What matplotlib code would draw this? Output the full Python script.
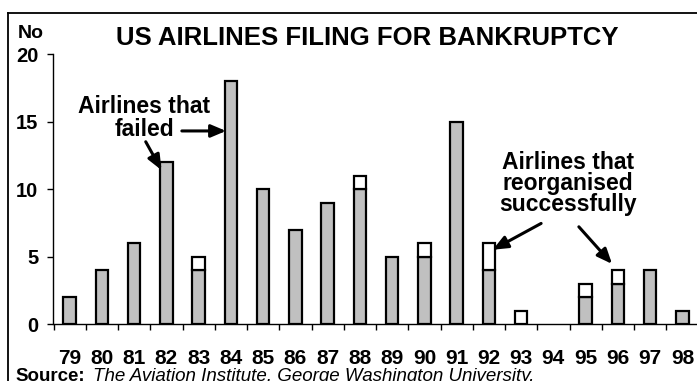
import matplotlib
matplotlib.use("Agg")
import matplotlib.pyplot as plt
import numpy as np

# Bankruptcy filings by year
years = ["79", "80", "81", "82", "83", "84", "85", "86", "87", "88",
         "89", "90", "91", "92", "93", "94", "95", "96", "97", "98"]
failed = [2, 4, 6, 12, 4, 18, 10, 7, 9, 10, 5, 5, 15, 4, 0, 0, 2, 3, 4, 1]
reorganised = [0, 0, 0, 0, 1, 0, 0, 0, 0, 1, 0, 1, 0, 2, 1, 0, 1, 1, 0, 0]
y_ticks = [0, 5, 10, 15, 20]

plt.rcParams["font.family"] = ["Liberation Sans", "DejaVu Sans"]

W, H = 697, 381
fig = plt.figure(figsize=(W / 100, H / 100), dpi=100)

def fx(px):
    return px / W

def fy(py):
    return 1 - py / H

ax = fig.add_axes([fx(53.5), fy(324), fx(645), 270 / H])
ax.set_xlim(-0.5, len(years) - 0.5)
ax.set_ylim(0, 20)

x = np.arange(len(years))
f = np.array(failed)
r = np.array(reorganised)
bw = 0.38
grey = "#c0c0c0"

mask_f = f > 0
ax.bar(x[mask_f], f[mask_f], width=bw, color=grey, edgecolor="black",
       linewidth=1.6, zorder=3)
mask_r = r > 0
ax.bar(x[mask_r], r[mask_r], bottom=f[mask_r], width=bw, color="white",
       edgecolor="black", linewidth=1.6, zorder=3)

for s in ["top", "right"]:
    ax.spines[s].set_visible(False)
ax.spines["left"].set_linewidth(1.0)
ax.spines["bottom"].set_linewidth(1.0)
ax.spines["bottom"].set_zorder(4)

ax.set_yticks(y_ticks)
ax.set_yticklabels([str(v) for v in y_ticks], fontsize=14.5, fontweight="bold")
ax.tick_params(axis="y", length=4, width=1.0, pad=7)

ax.set_xticks(x)
ax.set_xticklabels(years, fontsize=15, fontweight="bold")
ax.tick_params(axis="x", which="major", length=0, pad=18)
ax.set_xticks(np.arange(-0.5, len(years), 1.0), minor=True)
ax.tick_params(axis="x", which="minor", length=4, width=1.0, direction="out")

bold = dict(fontweight="bold", ha="center", va="baseline")

# "No" unit label
fig.text(fx(30.5), fy(38), "No", fontsize=14, **bold)

# Title
fig.text(fx(367.5), fy(45), "US AIRLINES FILING FOR BANKRUPTCY",
         fontsize=18.5, **bold)

# Annotation: failed airlines
fig.text(fx(144), fy(113), "Airlines that", fontsize=16.5, **bold)
fig.text(fx(144), fy(136), "failed", fontsize=16.5, **bold)
arrow_kw = dict(arrowstyle="-|>,head_length=0.9,head_width=0.38",
                color="black", lw=2.2, shrinkA=0, shrinkB=0)
ax.annotate("", xy=(4.85, 14.3), xytext=(3.48, 14.3), arrowprops=arrow_kw)
ax.annotate("", xy=(2.85, 11.4), xytext=(2.36, 13.5), arrowprops=arrow_kw)

# Annotation: reorganised airlines
fig.text(fx(568), fy(169), "Airlines that", fontsize=16.5, **bold)
fig.text(fx(568), fy(190), "reorganised", fontsize=16.5, **bold)
fig.text(fx(568), fy(211), "successfully", fontsize=16.5, **bold)
ax.annotate("", xy=(13.12, 5.5), xytext=(14.62, 7.45), arrowprops=arrow_kw)
ax.annotate("", xy=(16.82, 4.45), xytext=(15.79, 7.2), arrowprops=arrow_kw)

# Source line
fig.text(fx(15), fy(381), "Source:", fontsize=13.5, fontweight="bold",
         ha="left", va="baseline")
fig.text(fx(93), fy(381), "The Aviation Institute, George Washington University.",
         fontsize=13.5, style="italic", ha="left", va="baseline")

# Frame lines along top and left
fig.add_artist(plt.Line2D([fx(8), 1.0], [fy(13), fy(13)], color="black",
                          lw=1.3, transform=fig.transFigure))
fig.add_artist(plt.Line2D([fx(8), fx(8)], [fy(13), 0.0], color="black",
                          lw=1.3, transform=fig.transFigure))

fig.savefig("out.png", dpi=100)
